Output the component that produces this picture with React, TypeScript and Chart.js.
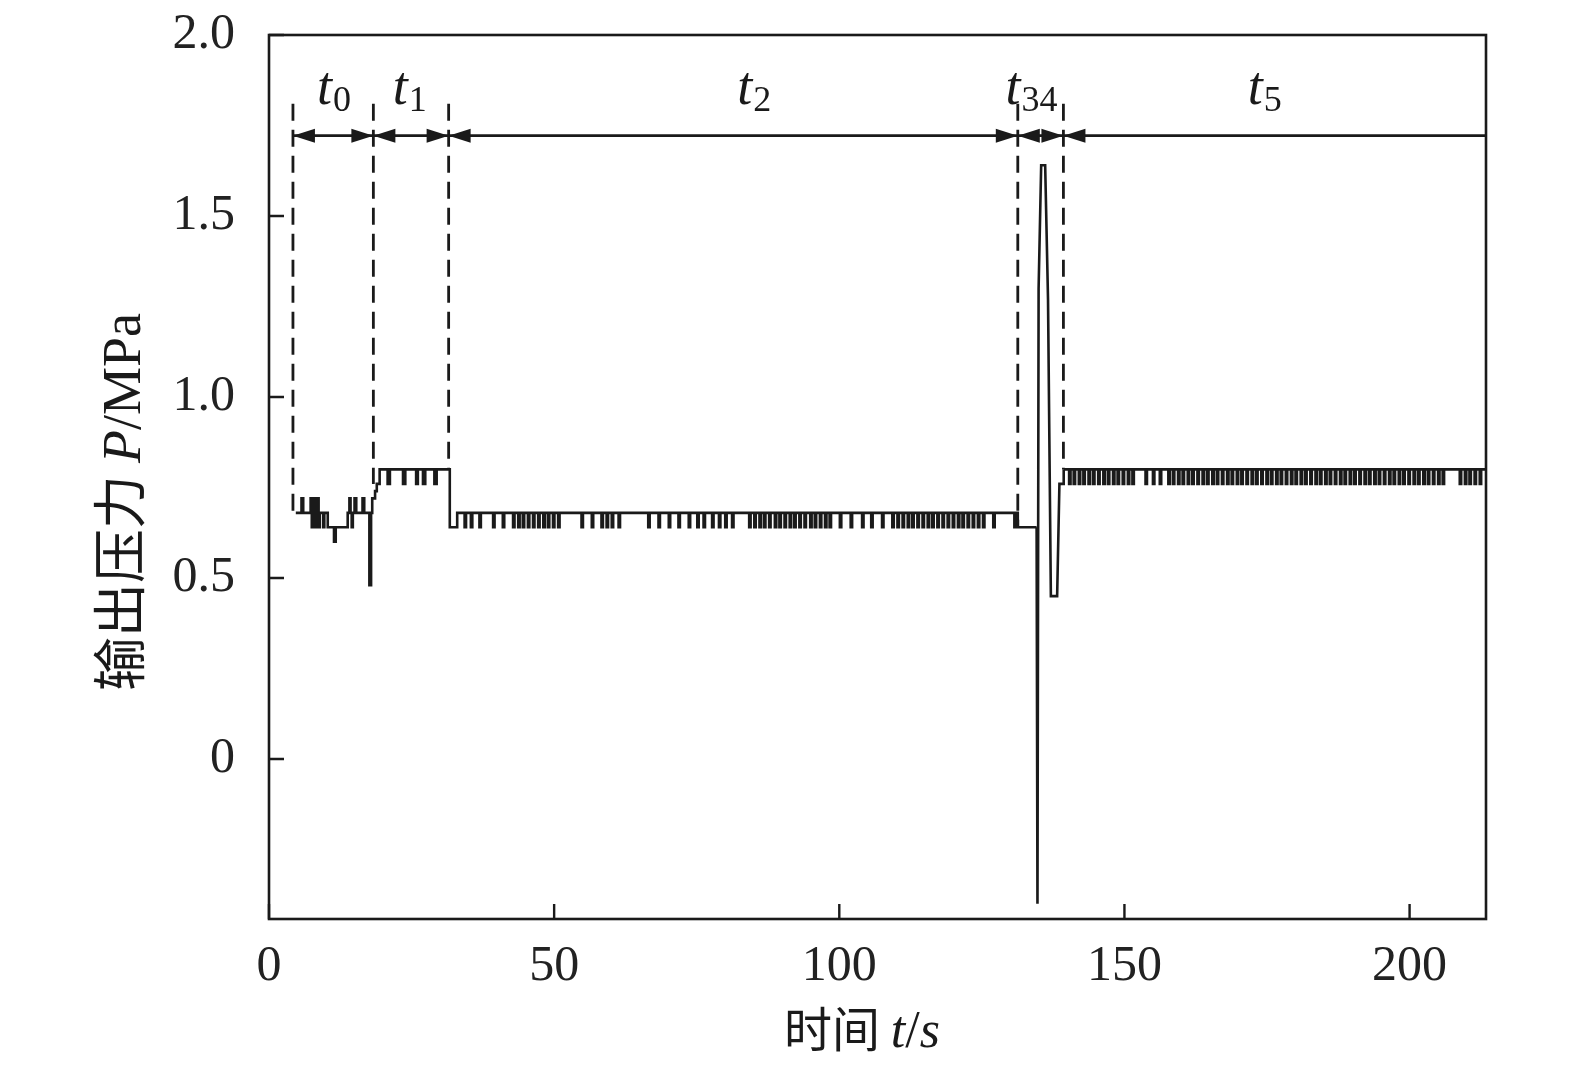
import React, { useEffect, useRef } from "react";
import { Chart, registerables } from "chart.js";

Chart.register(...registerables);

// ---------- data ----------
const xTicks = [0, 50, 100, 150, 200];
const yTicks = [0, 0.5, 1.0, 1.5, 2.0];
const xMin = 0;
const xMax = 213.4;
const yMin = -0.442;
const yMax = 2.0;

// t0 / t1 stage (sample-and-hold values)
const earlyTimes = [4.7, 5.7, 6.0, 7.3, 7.5, 7.7, 7.9, 8.1, 8.3, 8.5, 8.7, 8.9, 9.5, 9.7, 10.3, 11.4, 11.7, 13.8, 14.1, 14.3, 14.5, 14.7, 15.0, 15.3, 16.4, 16.7, 17.6, 17.9, 18.1, 18.6, 18.9, 19.4, 20.8, 21.2, 23.5, 23.9, 25.8, 26.1, 27.0, 27.4, 29.0, 29.4, 31.7, 33.0];
const earlyValues = [0.68, 0.72, 0.68, 0.72, 0.64, 0.72, 0.64, 0.72, 0.64, 0.72, 0.64, 0.68, 0.64, 0.68, 0.64, 0.60, 0.64, 0.68, 0.72, 0.68, 0.64, 0.68, 0.72, 0.68, 0.72, 0.68, 0.48, 0.68, 0.72, 0.74, 0.76, 0.80, 0.76, 0.80, 0.76, 0.80, 0.76, 0.80, 0.76, 0.80, 0.76, 0.80, 0.64, 0.68];

// t2 stage: level 0.68 with short drops to 0.64
const t2Start = 33.0;
const t2End = 131.3;
const t2High = 0.68;
const t2Low = 0.64;
const t2Dips = [34.3, 35.4, 36.9, 39.3, 41.0, 42.8, 43.7, 44.5, 45.4, 46.3, 47.2, 48.1, 48.9, 49.8, 50.7, 54.8, 56.6, 58.3, 59.2, 60.1, 61.3, 66.5, 68.3, 70.1, 71.8, 73.6, 75.1, 76.2, 77.7, 78.9, 80.0, 81.2, 84.2, 85.1, 86.0, 86.8, 87.7, 88.7, 89.5, 90.4, 91.3, 92.1, 93.0, 93.9, 94.9, 95.7, 96.6, 97.5, 98.3, 100.1, 102.0, 104.0, 105.6, 107.5, 109.3, 110.2, 111.1, 112.0, 112.8, 113.7, 114.6, 115.5, 116.3, 117.2, 118.1, 119.0, 119.9, 120.8, 121.6, 122.5, 123.4, 124.3, 125.2, 127.0, 130.7];
const holdTimes = [131.3, 134.6];
const holdValues = [0.64, 0.64];

// t3/t4 transient
const transientTimes = [134.6, 134.75, 134.95, 135.4, 136.1, 136.6, 137.1, 138.2, 138.6, 139.3, 139.35];
const transientValues = [0.64, -0.40, 1.30, 1.64, 1.64, 1.27, 0.45, 0.45, 0.76, 0.76, 0.80];

// t5 stage: level 0.80 with short drops to 0.76
const t5Start = 139.35;
const t5End = 213.4;
const t5High = 0.80;
const t5Low = 0.76;
const t5Dips = [140.3, 141.1, 142.0, 142.8, 143.7, 144.5, 145.4, 146.3, 147.1, 148.0, 148.8, 149.7, 150.6, 151.4, 153.7, 155.0, 156.2, 157.7, 158.5, 159.4, 160.2, 161.1, 161.9, 162.8, 163.7, 164.5, 165.4, 166.2, 167.1, 168.0, 168.8, 169.7, 170.5, 171.4, 172.3, 173.1, 174.0, 174.9, 175.7, 176.6, 177.4, 178.3, 179.2, 180.0, 180.9, 181.7, 182.6, 183.5, 184.3, 185.2, 186.0, 186.9, 187.8, 188.6, 189.5, 190.3, 191.2, 192.1, 192.9, 193.8, 194.6, 195.5, 196.4, 197.2, 198.1, 198.9, 199.8, 200.7, 201.5, 202.4, 203.2, 204.1, 205.0, 205.8, 208.8, 209.7, 210.5, 211.4, 212.3];
const dipWidth = 0.25;

// stage annotations
const boundaryTimes = [4.2, 18.3, 31.5, 131.3, 139.3];
const boundaryBottoms = [0.68, 0.76, 0.8, 0.64, 0.8];
const stageSubscripts = ["0", "1", "2", "34", "5"];
const stageLabelTimes = [11.3, 24.6, 85.0, 133.6, 174.5];
const arrowLevel = 1.722;
const dashTopLevel = 1.81;
const labelLevel = 1.81;

// ---------- helpers ----------
type Pt = { x: number; y: number };
const zip = (ts: number[], vs: number[]): Pt[] => ts.map((t, i) => ({ x: t, y: vs[i] }));
function buildDips(start: number, end: number, hi: number, lo: number, dips: number[]): Pt[] {
  const pts: Pt[] = [{ x: start, y: hi }];
  for (const d of dips) {
    pts.push({ x: d, y: lo }, { x: d + dipWidth, y: hi });
  }
  pts.push({ x: end, y: hi });
  return pts;
}

const SERIF = "'Liberation Serif', 'Times New Roman', 'Noto Sans CJK SC', serif";
const CJK = "'Noto Sans CJK SC', 'Liberation Serif', serif";
const INK = "#1a1a1a";

const overlay = {
  id: "overlay",
  afterDatasetsDraw(chart: any) {
    const { ctx, chartArea: a, scales } = chart;
    const x = scales.x;
    const y = scales.y;
    ctx.save();
    ctx.strokeStyle = INK;
    ctx.fillStyle = INK;
    // frame
    ctx.lineWidth = 2.6;
    ctx.setLineDash([]);
    ctx.strokeRect(a.left, a.top, a.right - a.left, a.bottom - a.top);
    // inward ticks
    ctx.lineWidth = 2.4;
    ctx.beginPath();
    for (const v of xTicks) {
      const px = x.getPixelForValue(v);
      ctx.moveTo(px, a.bottom);
      ctx.lineTo(px, a.bottom - 15);
    }
    for (const v of yTicks) {
      const py = y.getPixelForValue(v);
      ctx.moveTo(a.left, py);
      ctx.lineTo(a.left + 15, py);
    }
    ctx.stroke();

    // dashed boundaries
    ctx.lineWidth = 2.8;
    ctx.setLineDash([17, 9]);
    boundaryTimes.forEach((t, i) => {
      const px = x.getPixelForValue(t);
      ctx.beginPath();
      ctx.moveTo(px, y.getPixelForValue(dashTopLevel));
      ctx.lineTo(px, y.getPixelForValue(boundaryBottoms[i]));
      ctx.stroke();
    });
    ctx.setLineDash([]);

    // arrow line
    const ay = y.getPixelForValue(arrowLevel);
    ctx.lineWidth = 2.6;
    ctx.beginPath();
    ctx.moveTo(x.getPixelForValue(boundaryTimes[0]), ay);
    ctx.lineTo(a.right, ay);
    ctx.stroke();
    const head = (tipX: number, dir: number) => {
      ctx.beginPath();
      ctx.moveTo(tipX, ay);
      ctx.lineTo(tipX + dir * 22, ay - 7);
      ctx.lineTo(tipX + dir * 22, ay + 7);
      ctx.closePath();
      ctx.fill();
    };
    boundaryTimes.forEach((t, i) => {
      const px = x.getPixelForValue(t);
      head(px, 1);
      if (i > 0) head(px, -1);
    });

    // stage labels
    const ly = y.getPixelForValue(labelLevel);
    stageSubscripts.forEach((sub, i) => {
      const cx = x.getPixelForValue(stageLabelTimes[i]);
      ctx.font = `italic 54px ${SERIF}`;
      const wt = ctx.measureText("t").width;
      ctx.font = `36px ${SERIF}`;
      const ws = ctx.measureText(sub).width;
      const start = cx - (wt + ws) / 2;
      ctx.textBaseline = "alphabetic";
      ctx.textAlign = "left";
      ctx.font = `italic 54px ${SERIF}`;
      ctx.fillText("t", start, ly);
      ctx.font = `36px ${SERIF}`;
      ctx.fillText(sub, start + wt + 1, ly + 7);
    });

    // axis titles
    const drawParts = (parts: { text: string; font: string }[], cx: number, cy: number, rot: number) => {
      ctx.save();
      ctx.translate(cx, cy);
      ctx.rotate(rot);
      ctx.textBaseline = "alphabetic";
      ctx.textAlign = "left";
      let total = 0;
      const widths = parts.map((p) => {
        ctx.font = p.font;
        const w = ctx.measureText(p.text).width;
        total += w;
        return w;
      });
      let pos = -total / 2;
      parts.forEach((p, i) => {
        ctx.font = p.font;
        ctx.fillText(p.text, pos, 0);
        pos += widths[i];
      });
      ctx.restore();
    };
    drawParts(
      [
        { text: "时间 ", font: `48px ${CJK}` },
        { text: "t", font: `italic 52px ${SERIF}` },
        { text: "/", font: `52px ${SERIF}` },
        { text: "s", font: `italic 52px ${SERIF}` },
      ],
      862,
      1047,
      0
    );
    drawParts(
      [
        { text: "输出压力 ", font: `54px ${CJK}` },
        { text: "P", font: `italic 54px ${SERIF}` },
        { text: "/MPa", font: `54px ${SERIF}` },
      ],
      140,
      502,
      -Math.PI / 2
    );
    ctx.restore();
  },
};

export default function App() {
  const ref = useRef<HTMLCanvasElement | null>(null);
  useEffect(() => {
    document.body.style.margin = "0";
    if (!ref.current) return;
    const dataA: Pt[] = [
      ...zip(earlyTimes, earlyValues),
      ...buildDips(t2Start, t2End, t2High, t2Low, t2Dips),
      ...zip(holdTimes, holdValues),
    ];
    const dataB: Pt[] = zip(transientTimes, transientValues);
    const dataC: Pt[] = buildDips(t5Start, t5End, t5High, t5Low, t5Dips);
    const common = {
      borderColor: INK,
      borderWidth: 2.6,
      pointRadius: 0,
      fill: false,
      tension: 0,
    };
    const chart = new Chart(ref.current, {
      type: "line",
      data: {
        datasets: [
          { ...common, data: dataA, stepped: true },
          { ...common, data: dataB, stepped: false },
          { ...common, data: dataC, stepped: true },
        ] as any,
      },
      options: {
        animation: false,
        responsive: false,
        devicePixelRatio: 1,
        parsing: false,
        normalized: true,
        layout: { padding: { left: 0, top: 35, right: 89, bottom: 0 } },
        plugins: { legend: { display: false }, tooltip: { enabled: false } },
        scales: {
          x: {
            type: "linear",
            min: xMin,
            max: xMax,
            grid: { display: false, drawTicks: false },
            border: { display: false },
            afterBuildTicks: (s: any) => {
              s.ticks = xTicks.map((v) => ({ value: v }));
            },
            afterFit: (s: any) => {
              s.height = 172;
              s.paddingLeft = 0;
              s.paddingRight = 0;
              s.paddingTop = 0;
              s.paddingBottom = 0;
            },
            ticks: {
              padding: 18,
              maxRotation: 0,
              color: "#222",
              font: { family: SERIF, size: 50 },
              callback: (v: any) => String(v),
            },
          },
          y: {
            type: "linear",
            min: yMin,
            max: yMax,
            grid: { display: false, drawTicks: false },
            border: { display: false },
            afterBuildTicks: (s: any) => {
              s.ticks = yTicks.map((v) => ({ value: v }));
            },
            afterFit: (s: any) => {
              s.width = 269;
              s.paddingLeft = 0;
              s.paddingRight = 0;
              s.paddingTop = 0;
              s.paddingBottom = 0;
            },
            ticks: {
              padding: 34,
              color: "#222",
              font: { family: SERIF, size: 50 },
              callback: (v: any) => (v === 0 ? "0" : Number(v).toFixed(1)),
            },
          },
        },
      },
      plugins: [overlay],
    });
    return () => chart.destroy();
  }, []);
  return (
    <div style={{ position: "absolute", left: 0, top: 0, width: 1575, height: 1091, background: "#fff" }}>
      <canvas ref={ref} width={1575} height={1091} style={{ width: 1575, height: 1091 }} />
    </div>
  );
}
